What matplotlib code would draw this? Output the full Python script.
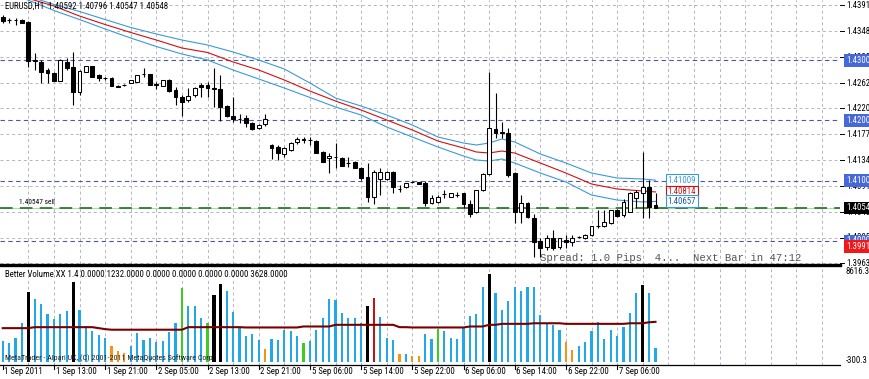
import matplotlib
matplotlib.use("Agg")
import matplotlib.pyplot as plt
import matplotlib.transforms as mtransforms
from matplotlib.lines import Line2D
from matplotlib import font_manager

# ---------------- data ----------------
chart_header = "EURUSD,H1  1.40592 1.40796 1.40547 1.40548"

opens = [
    1.43718, 1.43668, 1.43668, 1.43668, 1.43635, 1.42987, 1.42971, 1.42838, 1.42788, 1.42655,
    1.42971, 1.42888, 1.42473, 1.42805, 1.42904, 1.42755, 1.42705, 1.42705, 1.42572, 1.42589,
    1.42622, 1.42639, 1.42772, 1.42772, 1.42606, 1.42572, 1.42672, 1.42506, 1.42390, 1.42340,
    1.42423, 1.42589, 1.42589, 1.42523, 1.42523, 1.42240, 1.42074, 1.42025, 1.42041, 1.41958,
    1.41875, 1.41942, 1.41593, 1.41560, 1.41444, 1.41510, 1.41643, 1.41693, 1.41676, 1.41659,
    1.41477, 1.41377, 1.41394, 1.41377, 1.41294, 1.41311, 1.41211, 1.41062, 1.40730, 1.41029,
    1.41029, 1.41145, 1.40863, 1.40896, 1.40979, 1.40979, 1.40962, 1.40630, 1.40647, 1.40780,
    1.40730, 1.40763, 1.40796, 1.40614, 1.40481, 1.40846, 1.41112, 1.41859, 1.41809, 1.41792,
    1.41128, 1.40481, 1.40630, 1.40381, 1.39999, 1.39900, 1.40049, 1.39900, 1.40016, 1.39983,
    1.40066, 1.40049, 1.40099, 1.40248, 1.40248, 1.40298, 1.40514, 1.40431, 1.40481, 1.40713,
    1.40796, 1.40896, 1.40592]
highs = [
    1.43751, 1.43701, 1.43701, 1.43685, 1.43651, 1.43120, 1.43004, 1.42871, 1.42805, 1.43021,
    1.43037, 1.43137, 1.42838, 1.42904, 1.42904, 1.42772, 1.42722, 1.42722, 1.42589, 1.42606,
    1.42655, 1.42755, 1.42871, 1.42772, 1.42639, 1.42672, 1.42689, 1.42556, 1.42423, 1.42539,
    1.42556, 1.42622, 1.42639, 1.42871, 1.42755, 1.42257, 1.42390, 1.42108, 1.42091, 1.41975,
    1.41942, 1.42108, 1.41610, 1.41593, 1.41560, 1.41643, 1.41726, 1.41726, 1.41726, 1.41676,
    1.41493, 1.41460, 1.41626, 1.41394, 1.41394, 1.41327, 1.41228, 1.41294, 1.41178, 1.41211,
    1.41161, 1.41161, 1.40929, 1.40962, 1.40995, 1.40979, 1.40995, 1.40763, 1.40763, 1.40846,
    1.40796, 1.40813, 1.40796, 1.40680, 1.40846, 1.41128, 1.42805, 1.42456, 1.41975, 1.41875,
    1.41145, 1.40763, 1.40647, 1.40448, 1.40049, 1.40099, 1.40182, 1.40049, 1.40099, 1.40099,
    1.40082, 1.40116, 1.40248, 1.40514, 1.40514, 1.40514, 1.40531, 1.40697, 1.40813, 1.40846,
    1.41477, 1.41012, 1.40796]
lows = [
    1.43618, 1.43618, 1.43585, 1.43618, 1.42888, 1.42838, 1.42622, 1.42622, 1.42655, 1.42655,
    1.42838, 1.42257, 1.42423, 1.42805, 1.42722, 1.42655, 1.42672, 1.42572, 1.42556, 1.42572,
    1.42622, 1.42639, 1.42722, 1.42589, 1.42523, 1.42572, 1.42473, 1.42257, 1.42074, 1.42307,
    1.42390, 1.42390, 1.42390, 1.42224, 1.41991, 1.42058, 1.41975, 1.41958, 1.41892, 1.41842,
    1.41859, 1.41908, 1.41361, 1.41344, 1.41394, 1.41493, 1.41610, 1.41626, 1.41593, 1.41460,
    1.41311, 1.41128, 1.41211, 1.41244, 1.41228, 1.41211, 1.41012, 1.40647, 1.40614, 1.40763,
    1.41012, 1.40796, 1.40813, 1.40879, 1.40962, 1.40946, 1.40580, 1.40614, 1.40630, 1.40713,
    1.40730, 1.40730, 1.40547, 1.40398, 1.40464, 1.40829, 1.41095, 1.41709, 1.41709, 1.41062,
    1.40298, 1.40298, 1.40381, 1.39734, 1.39734, 1.39850, 1.39850, 1.39867, 1.39883, 1.39916,
    1.40049, 1.40033, 1.40082, 1.40215, 1.40232, 1.40282, 1.40398, 1.40398, 1.40481, 1.40547,
    1.40381, 1.40381, 1.40547]
closes = [
    1.43651, 1.43660, 1.43664, 1.43618, 1.42987, 1.43004, 1.42805, 1.42788, 1.42655, 1.43004,
    1.42871, 1.42473, 1.42821, 1.42904, 1.42722, 1.42705, 1.42700, 1.42572, 1.42556, 1.42585,
    1.42672, 1.42755, 1.42768, 1.42589, 1.42589, 1.42672, 1.42489, 1.42390, 1.42307, 1.42406,
    1.42539, 1.42556, 1.42539, 1.42539, 1.42224, 1.42074, 1.42025, 1.42020, 1.41958, 1.41859,
    1.41925, 1.42025, 1.41543, 1.41460, 1.41543, 1.41626, 1.41693, 1.41676, 1.41672, 1.41460,
    1.41311, 1.41410, 1.41390, 1.41244, 1.41290, 1.41211, 1.41045, 1.40730, 1.41145, 1.41145,
    1.41145, 1.40896, 1.40860, 1.40962, 1.40975, 1.40946, 1.40630, 1.40713, 1.40730, 1.40776,
    1.40796, 1.40760, 1.40614, 1.40448, 1.40846, 1.41112, 1.41875, 1.41792, 1.41792, 1.41095,
    1.40481, 1.40630, 1.40398, 1.39983, 1.39883, 1.40049, 1.39883, 1.40049, 1.39983, 1.40049,
    1.40062, 1.40099, 1.40248, 1.40244, 1.40315, 1.40514, 1.40414, 1.40647, 1.40796, 1.40813,
    1.40896, 1.40564, 1.40548]

# moving-average envelope (read every few bars)
ma_bars = [0, 4, 8, 12, 16, 20, 24, 28, 32, 36, 40, 44, 48, 52, 56, 60, 64, 68, 72, 74,
           76, 78, 80, 84, 88, 92, 96, 100, 102]
ma_upper = [1.44191, 1.44061, 1.43927, 1.43809, 1.43676, 1.43544, 1.43436, 1.43336, 1.43253,
            1.43137, 1.43004, 1.42855, 1.42622, 1.42373, 1.42240, 1.42091, 1.41925, 1.41726,
            1.41626, 1.41593, 1.41626, 1.41693, 1.41643, 1.41444, 1.41294, 1.41128, 1.41045,
            1.41029, 1.41009]
ma_mid = [1.44166, 1.44027, 1.43900, 1.43734, 1.43593, 1.43461, 1.43336, 1.43203, 1.43129,
          1.42971, 1.42838, 1.42672, 1.42489, 1.42323, 1.42174, 1.42008, 1.41842, 1.41659,
          1.41543, 1.41477, 1.41460, 1.41493, 1.41460, 1.41294, 1.41128, 1.40946, 1.40863,
          1.40829, 1.40814]
ma_lower = [1.44133, 1.43997, 1.43826, 1.43676, 1.43519, 1.43369, 1.43228, 1.43104, 1.43004,
            1.42838, 1.42689, 1.42539, 1.42382, 1.42224, 1.42091, 1.41892, 1.41726, 1.41560,
            1.41410, 1.41344, 1.41327, 1.41361, 1.41294, 1.41128, 1.40979, 1.40763, 1.40680,
            1.40647, 1.40657]

volumes = [
    1869, 1718, 2163, 3498, 6319, 5723, 5278, 4299, 3854, 4299,
    4601, 7209, 4744, 3293, 2821, 2465, 2163, 1424, 979, 828,
    1424, 2608, 1931, 2163, 1780, 1869, 2670, 3560, 6675, 5046,
    5046, 3943, 3498, 6079, 7058, 6470, 4539, 3115, 2314, 2519,
    1931, 1184, 2109, 1931, 2848, 2759, 2314, 1718, 1869, 2848,
    3943, 5723, 5634, 4450, 3943, 3943, 3498, 5046, 5812, 4094,
    2163, 1958, 739, 739, 534, 534, 2519, 2074, 2964, 2759,
    2163, 2074, 3053, 4156, 4334, 6764, 8010, 6230, 4690, 5518,
    6826, 6470, 6764, 6826, 4245, 3498, 3355, 2910, 1780, 1041,
    1424, 1780, 2821, 3649, 2074, 2848, 2314, 3115, 4388, 6230,
    6969, 6230, 1232]
volume_class = list(
    "bbbbkbbbbb" "bkbbbbbooo" "bbbbbbbbgb" "bbgkkbbbbb" "bobbbbbgbb"
    "bbbbbbbkrb" "bboboobbgb" "bbbbbbkbbb" "bbbbbbbboo" "bbbbbbbbbb" "kbb")
volume_avg = ([3053] * 5 + [3142] * 10 + [3053] + [2964] + [2910] * 12 + [3142] * 9 +
              [3115] * 9 + [3204] * 5 + [3355] * 10 + [3142] * 2 + [3115] * 9 +
              [3204] * 3 + [3355] * 2 + [3444] * 5 + [3498] * 5 + [3444] * 10 +
              [3498] * 3 + [3587] + [3628])
volume_header = ("Better Volume XX 1.4 0.0000 1232.0000 0.0000 0.0000 0.0000 "
                 "0.0000 3628.0000")
volume_max, volume_min = 8616.3, -300.3

price_ticks = [1.43910, 1.43480, 1.43050, 1.42620, 1.42200, 1.41770, 1.41340,
               1.40910, 1.40480, 1.40050, 1.39630]
level_lines = [1.43000, 1.42000, 1.41000, 1.40000]
order_price = 1.40547
order_text = "1.40547 sell"
bid_price = 1.40548
red_price = 1.39913
time_label_bars = [0, 8, 16, 24, 32, 40, 48, 56, 64, 72, 80, 88, 96]
time_labels = ["1 Sep 2011", "1 Sep 13:00", "1 Sep 21:00", "2 Sep 05:00", "2 Sep 13:00",
               "2 Sep 21:00", "5 Sep 06:00", "5 Sep 14:00", "5 Sep 22:00", "6 Sep 06:00",
               "6 Sep 14:00", "6 Sep 22:00", "7 Sep 06:00"]
spread_text = "Spread: 1.0 Pips  4...  Next Bar in 47:12"
footer_text = "MetaTrader - Alpari UK, (C) 2001-2011 MetaQuotes Software Corp."

# ---------------- fonts ----------------
entries = font_manager.fontManager.ttflist
by_name = {}
for f in entries:
    by_name.setdefault(f.name, set()).add(str(f.stretch))

FAMILY, STRETCH = "Liberation Sans", "normal"
for nm in ("Liberation Sans Narrow", "Roboto Condensed", "DejaVu Sans Condensed",
           "Open Sans Condensed", "Noto Sans Condensed"):
    if nm in by_name:
        FAMILY, STRETCH = nm, "normal"
        break
else:
    for nm in ("DejaVu Sans", "Roboto", "Noto Sans", "Open Sans"):
        if nm in by_name and "condensed" in by_name[nm]:
            FAMILY, STRETCH = nm, "condensed"
            break

plt.rcParams["font.family"] = [FAMILY, "DejaVu Sans"]
plt.rcParams["font.stretch"] = STRETCH

# ---------------- layout ----------------
W, H = 870, 379
fig = plt.figure(figsize=(W / 100, H / 100), dpi=100)
fig.patch.set_facecolor("white")
renderer = fig.canvas.get_renderer()


def fit_size(text, target_px, **kw):
    t = fig.text(0, 0, text, fontsize=10, **kw)
    w = t.get_window_extent(renderer).width
    t.remove()
    return 10 * target_px / w


FS = min(7.0, fit_size("1 Sep 13:00", 40))
MONO_FS = fit_size(spread_text, 262, family=["Liberation Mono", "DejaVu Sans Mono"])


def fy(py):
    return 1 - py / H


PLOT_R = 840
ax = fig.add_axes([0, fy(264), PLOT_R / W, 264 / H])
vax = fig.add_axes([0, fy(365), PLOT_R / W, 98 / H])

bar_px = 6.4
x0 = -2.7 / bar_px
x1 = (PLOT_R - 2.7) / bar_px
ax.set_xlim(x0, x1)
vax.set_xlim(x0, x1)
ax.set_ylim(1.44 - 0.000166 * 264, 1.44)
vax.set_ylim(volume_min, volume_max)

for a in (ax, vax):
    a.set_xticks([])
    a.set_yticks([])
    for s in a.spines.values():
        s.set_visible(False)
    a.set_facecolor("white")

GRID = "#b4b4c4"
grid_ls = (0, (3, 3))
n = len(opens)
grid_bars = list(range(4, 132, 4))
for g in grid_bars:
    ax.axvline(g, color=GRID, lw=0.7, ls=grid_ls, zorder=0)
    vax.axvline(g, color=GRID, lw=0.7, ls=grid_ls, zorder=0)
for p in price_ticks:
    ax.axhline(p, color=GRID, lw=0.7, ls=grid_ls, zorder=0)

for p in level_lines:
    ax.axhline(p, color="#4a5aa8", lw=0.8, ls=(0, (4, 3)), zorder=1)

ax.axhline(order_price, color="#a8dca8", lw=0.7, zorder=1)
ax.axhline(order_price, color="#2d7a2d", lw=1.3, ls=(0, (7, 4)), zorder=1)

# MA envelope
ax.plot(ma_bars, ma_upper, color="#3a9ad9", lw=0.8, zorder=2)
ax.plot(ma_bars, ma_lower, color="#3a9ad9", lw=0.8, zorder=2)
ax.plot(ma_bars, ma_mid, color="#d01010", lw=0.8, zorder=2)

# candles
for i in range(n):
    o, h, l, c = opens[i], highs[i], lows[i], closes[i]
    ax.vlines(i, l, h, color="black", lw=0.8, zorder=3)
    bull = c >= o
    lo, hi = min(o, c), max(o, c)
    ht = max(hi - lo, 0.00001)
    ax.bar(i, ht, bottom=lo, width=0.6, color="white" if bull else "black",
           edgecolor="black", linewidth=0.75, zorder=4)

# volume
vcolors = {"b": "#22a8e6", "k": "#000000", "r": "#c81010", "g": "#3ccc22", "o": "#f59218"}
for i in range(n):
    cls = volume_class[i]
    w = 0.5 if cls == "k" else 0.32
    vax.bar(i, volumes[i], width=w, color=vcolors[cls], linewidth=0, zorder=2)
vax.plot(range(n), volume_avg, color="#7a0000", lw=1.5, zorder=3)

# separator and bottom lines
fig.add_artist(Line2D([0, PLOT_R / W], [fy(265), fy(265)], color="black", lw=2.4))
fig.add_artist(Line2D([0, PLOT_R / W], [fy(365), fy(365)], color="black", lw=0.9))

# texts
fig.text(5 / W, fy(6.5), chart_header, fontsize=FS, va="center", ha="left")
ax.text(2.5, order_price + 0.0004, order_text, fontsize=FS * 0.85, va="bottom", ha="left",
        color="black", zorder=5)
ax.text(84.0, 1.3963, spread_text, fontsize=MONO_FS, va="bottom", ha="left",
        color="#555555", family=["Liberation Mono", "DejaVu Sans Mono"], zorder=5)
fig.text(5 / W, fy(274.5), volume_header, fontsize=FS, va="center", ha="left")
fig.text(5 / W, fy(358), footer_text, fontsize=FS * 0.92, va="center", ha="left",
         color="#222222", zorder=5)

# right price axis
tr_main = mtransforms.blended_transform_factory(fig.transFigure, ax.transData)
LX = 846 / W
for p in price_ticks:
    fig.add_artist(Line2D([PLOT_R / W, 844 / W], [p, p], color="black", lw=0.7,
                          transform=tr_main))
    fig.text(LX, p, f"{p:.5f}", transform=tr_main, fontsize=FS, va="center", ha="left")


def box_label(price, text, face, fg="white"):
    fig.text(LX, price, text, transform=tr_main, fontsize=FS, va="center", ha="left",
             color=fg, zorder=10,
             bbox=dict(boxstyle="square,pad=0.22", facecolor=face, edgecolor=face, lw=0))


for p in level_lines:
    box_label(p, f"{p:.5f}", "#4768d8")
box_label(bid_price, f"{bid_price:.5f}", "#000000")
box_label(red_price, f"{red_price:.5f}", "#f01818")

# MA value labels
for vals, col, tcol in ((ma_upper, "#3a9ad9", "#3a9ad9"), (ma_mid, "#d01010", "#d01010"),
                        (ma_lower, "#3a9ad9", "#1a5aa8")):
    ax.text(103.9, vals[-1], f"{vals[-1]:.5f}", fontsize=FS, va="center", ha="left",
            color=tcol, zorder=6,
            bbox=dict(boxstyle="square,pad=0.18", facecolor="white", edgecolor=col, lw=0.8))

# volume axis labels
tr_vol = mtransforms.blended_transform_factory(fig.transFigure, vax.transData)
fig.text(LX, volume_max, f"{volume_max:.1f}", transform=tr_vol, fontsize=FS, va="top",
         ha="left")
fig.text(LX, volume_min, f"{volume_min:.1f}", transform=tr_vol, fontsize=FS,
         va="bottom", ha="left")

# time axis
tr_time = mtransforms.blended_transform_factory(vax.transData, fig.transFigure)
for b, lab in zip(time_label_bars, time_labels):
    fig.add_artist(Line2D([b, b], [fy(365), fy(369)], color="black", lw=0.8,
                          transform=tr_time))
    fig.text(b + 0.25, fy(372), lab, transform=tr_time, fontsize=FS, va="center",
             ha="left")

fig.savefig("out.png", dpi=100, facecolor="white")
